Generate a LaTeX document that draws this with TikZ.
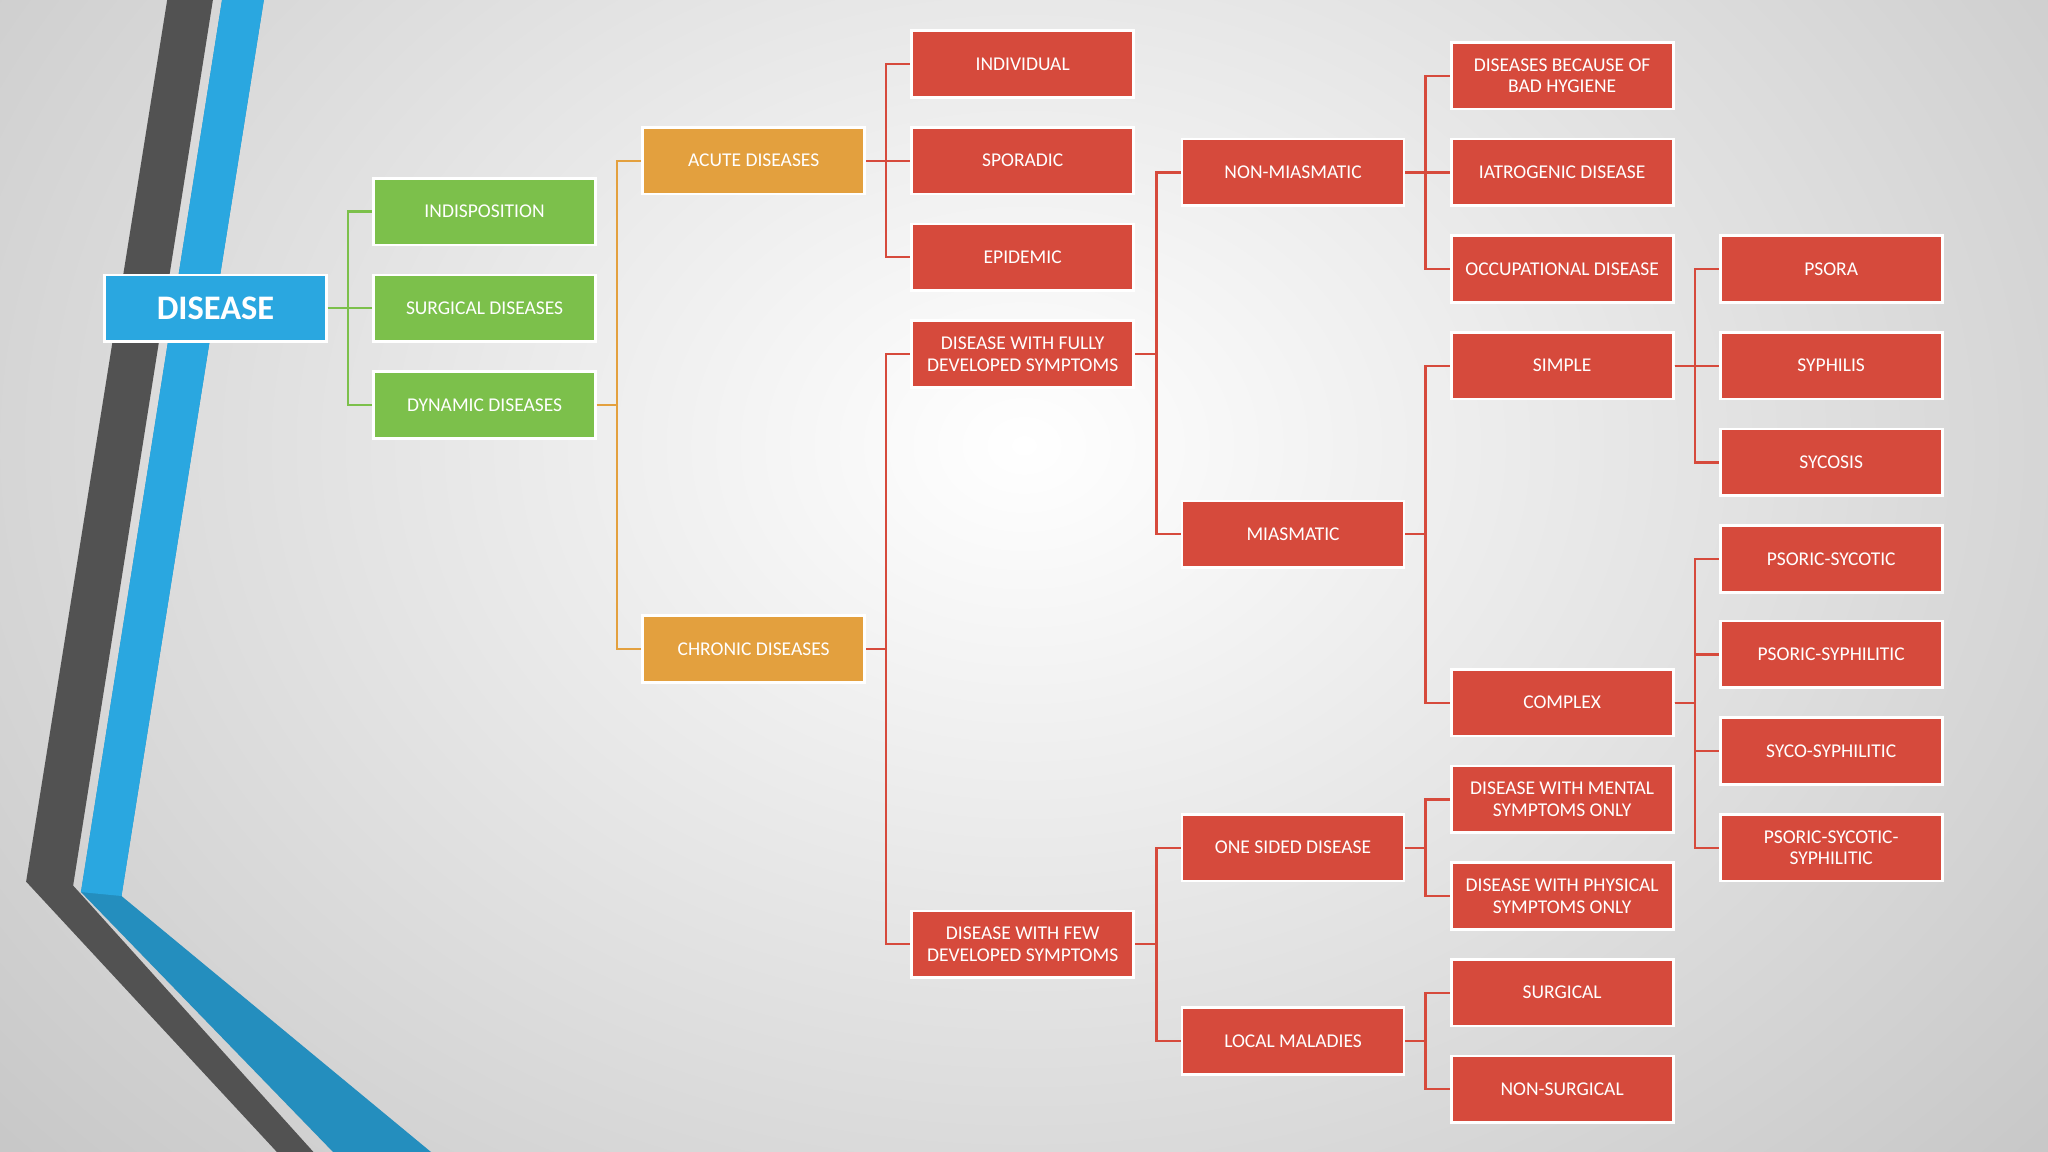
\documentclass[tikz,border=0pt]{standalone}
\usepackage{fontspec}
\setmainfont{Carlito}
\usetikzlibrary{positioning}
\definecolor{skyblue}{HTML}{2AA7E0}
\definecolor{leafgreen}{HTML}{7CC04B}
\definecolor{amber}{HTML}{E3A03E}
\definecolor{brick}{HTML}{D64A3C}
\tikzset{
  box/.style={draw=white, line width=1.2pt, text=white, align=center,
    minimum width=3.4cm, minimum height=1.02cm, inner sep=1pt,
    font=\fontsize{8.5}{9.5}\selectfont},
  greenbox/.style={box, fill=leafgreen},
  orangebox/.style={box, fill=amber},
  redbox/.style={box, fill=brick},
  link/.style={line width=1pt},
}
\newcommand{\branch}[3]{%
  \foreach \c in {#2}
    \draw[link, #3] (#1.east) -| ([xshift=-0.37cm]\c.west) -- (\c.west);}
\begin{document}
\begin{tikzpicture}[x=0.02cm, y=-0.02cm]
\useasboundingbox (0,0) rectangle (1568,882);
\shade[inner color=white, outer color=gray!45] (-300,-500) rectangle (1868,1182);
\clip (0,0) rectangle (1568,882);
% stripes
\fill[black!68] (128,0) -- (163,0) -- (56,678) -- (240,882) -- (212,882) -- (20,675) -- cycle;
\fill[skyblue!85!black] (170,0) -- (202,0) -- (93,686) -- (330,882) -- (255,882) -- (62,683) -- cycle;
\fill[skyblue] (170,0) -- (202,0) -- (93,686) -- (62,683) -- cycle;

% root
\node[box, fill=skyblue, font=\fontsize{15}{17}\bfseries] (disease) at (165,236) {DISEASE};

% level 1
\node[greenbox] (indisp) at (371,162) {INDISPOSITION};
\node[greenbox] (surgical) at (371,236) {SURGICAL DISEASES};
\node[greenbox] (dynamic) at (371,310) {DYNAMIC DISEASES};

% level 2
\node[orangebox] (acute) at (577,123) {ACUTE DISEASES};
\node[orangebox] (chronic) at (577,497) {CHRONIC DISEASES};

% level 3
\node[redbox] (individual) at (783,49) {INDIVIDUAL};
\node[redbox] (sporadic) at (783,123) {SPORADIC};
\node[redbox] (epidemic) at (783,197) {EPIDEMIC};
\node[redbox] (fully) at (783,271) {DISEASE WITH FULLY\\DEVELOPED SYMPTOMS};
\node[redbox] (few) at (783,723) {DISEASE WITH FEW\\DEVELOPED SYMPTOMS};

% level 4
\node[redbox] (nonmiasm) at (990,132) {NON-MIASMATIC};
\node[redbox] (miasm) at (990,409) {MIASMATIC};
\node[redbox] (onesided) at (990,649) {ONE SIDED DISEASE};
\node[redbox] (local) at (990,797) {LOCAL MALADIES};

% level 5
\node[redbox] (hygiene) at (1196,58) {DISEASES BECAUSE OF\\BAD HYGIENE};
\node[redbox] (iatro) at (1196,132) {IATROGENIC DISEASE};
\node[redbox] (occup) at (1196,206) {OCCUPATIONAL DISEASE};
\node[redbox] (simple) at (1196,280) {SIMPLE};
\node[redbox] (complex) at (1196,538) {COMPLEX};
\node[redbox] (mental) at (1196,612) {DISEASE WITH MENTAL\\SYMPTOMS ONLY};
\node[redbox] (physical) at (1196,686) {DISEASE WITH PHYSICAL\\SYMPTOMS ONLY};
\node[redbox] (surg) at (1196,760) {SURGICAL};
\node[redbox] (nonsurg) at (1196,834) {NON-SURGICAL};

% level 6
\node[redbox] (psora) at (1402,206) {PSORA};
\node[redbox] (syphilis) at (1402,280) {SYPHILIS};
\node[redbox] (sycosis) at (1402,354) {SYCOSIS};
\node[redbox] (psosyc) at (1402,428) {PSORIC-SYCOTIC};
\node[redbox] (psosyph) at (1402,501) {PSORIC-SYPHILITIC};
\node[redbox] (sycosyph) at (1402,575) {SYCO-SYPHILITIC};
\node[redbox] (psosycsyph) at (1402,649) {PSORIC-SYCOTIC-\\SYPHILITIC};

% connectors
\branch{disease}{indisp,surgical,dynamic}{leafgreen}
\branch{dynamic}{acute,chronic}{amber}
\branch{acute}{individual,sporadic,epidemic}{brick}
\branch{chronic}{fully,few}{brick}
\branch{fully}{nonmiasm,miasm}{brick}
\branch{few}{onesided,local}{brick}
\branch{nonmiasm}{hygiene,iatro,occup}{brick}
\branch{miasm}{simple,complex}{brick}
\branch{onesided}{mental,physical}{brick}
\branch{local}{surg,nonsurg}{brick}
\branch{simple}{psora,syphilis,sycosis}{brick}
\branch{complex}{psosyc,psosyph,sycosyph,psosycsyph}{brick}
\end{tikzpicture}
\end{document}
